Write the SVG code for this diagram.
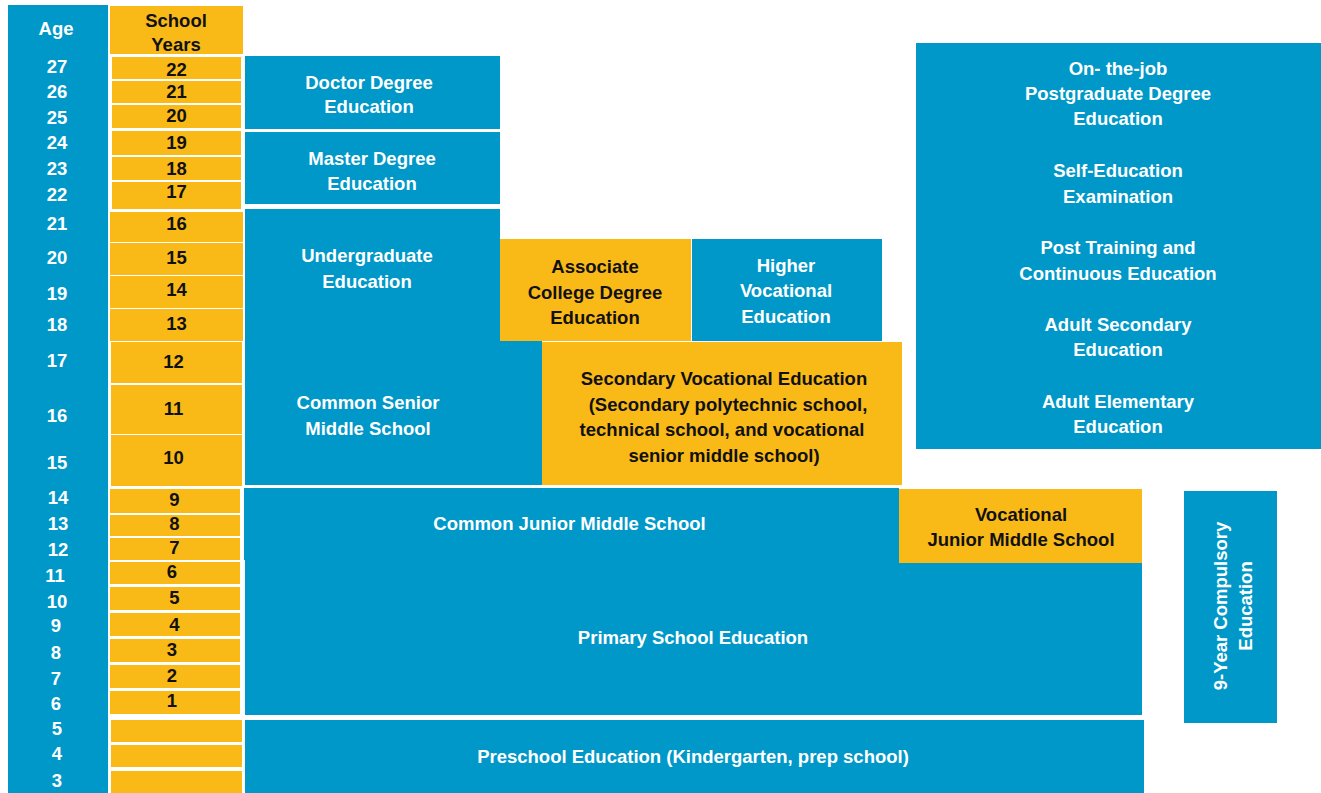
<svg xmlns="http://www.w3.org/2000/svg" width="1321" height="793" viewBox="0 0 1321 793">
<style>
  .b { fill: #0098C8; }
  .y { fill: #F9BA18; }
  text { font-family: "Liberation Sans", Arial, sans-serif; font-weight: bold; font-size: 18.5px; text-anchor: middle; }
  .w { fill: #FFFFFF; }
  .k { fill: #111111; }
</style>
<rect x="0" y="0" width="1321" height="793" fill="#FFFFFF"/>

<g id="age-column">
  <rect class="b" x="8" y="5" width="100" height="788"/>
  <g class="w">
    <text x="56" y="35">Age</text>
    <text x="57" y="72.5">27</text>
    <text x="57" y="97.5">26</text>
    <text x="57" y="123.5">25</text>
    <text x="57" y="149">24</text>
    <text x="57" y="175">23</text>
    <text x="57" y="200.5">22</text>
    <text x="57" y="230">21</text>
    <text x="57" y="263.5">20</text>
    <text x="57" y="299.5">19</text>
    <text x="57" y="330.5">18</text>
    <text x="57" y="366.5">17</text>
    <text x="57" y="421.5">16</text>
    <text x="57" y="468.5">15</text>
    <text x="58" y="503.5">14</text>
    <text x="58" y="530">13</text>
    <text x="58" y="555.5">12</text>
    <text x="55" y="581.5">11</text>
    <text x="57" y="607.5">10</text>
    <text x="56" y="632">9</text>
    <text x="56" y="658.5">8</text>
    <text x="56" y="684.5">7</text>
    <text x="56" y="709.5">6</text>
    <text x="57" y="735">5</text>
    <text x="57" y="760">4</text>
    <text x="57" y="786.5">3</text>
  </g>
</g>

<g id="school-years-column">
  <rect class="y" x="110" y="6" width="133" height="48"/>
  <rect class="y" x="112" y="57" width="129" height="22"/>
  <rect class="y" x="112" y="81" width="129" height="22"/>
  <rect class="y" x="112" y="105" width="129" height="23"/>
  <rect class="y" x="112" y="131" width="129" height="24"/>
  <rect class="y" x="112" y="157" width="129" height="23"/>
  <rect class="y" x="112" y="182" width="129" height="27"/>
  <rect class="y" x="110" y="212" width="133" height="30"/>
  <rect class="y" x="110" y="243" width="133" height="32"/>
  <rect class="y" x="110" y="276" width="133" height="32"/>
  <rect class="y" x="110" y="309" width="133" height="32"/>
  <rect class="y" x="111" y="342" width="131" height="41"/>
  <rect class="y" x="111" y="385" width="131" height="49"/>
  <rect class="y" x="111" y="435" width="131" height="51"/>
  <rect class="y" x="110" y="489" width="130" height="24"/>
  <rect class="y" x="110" y="515" width="130" height="21"/>
  <rect class="y" x="110" y="538" width="130" height="22"/>
  <rect class="y" x="110" y="562" width="130" height="22"/>
  <rect class="y" x="110" y="587" width="130" height="23"/>
  <rect class="y" x="110" y="613" width="130" height="23"/>
  <rect class="y" x="110" y="639" width="130" height="23"/>
  <rect class="y" x="110" y="665" width="130" height="23"/>
  <rect class="y" x="110" y="691" width="130" height="23"/>
  <rect class="y" x="111" y="720" width="131" height="22"/>
  <rect class="y" x="111" y="745" width="131" height="22"/>
  <rect class="y" x="111" y="771" width="131" height="22"/>
  <g class="k">
    <text x="176" y="27">School</text>
    <text x="176" y="51">Years</text>
    <text x="176.5" y="76">22</text>
    <text x="176.5" y="98">21</text>
    <text x="176.5" y="121.5">20</text>
    <text x="176.5" y="149">19</text>
    <text x="176.5" y="175">18</text>
    <text x="176.5" y="197.5">17</text>
    <text x="176.5" y="230">16</text>
    <text x="176.5" y="264">15</text>
    <text x="176.5" y="296">14</text>
    <text x="176.5" y="330">13</text>
    <text x="173.5" y="368">12</text>
    <text x="173.5" y="415">11</text>
    <text x="173.5" y="464">10</text>
    <text x="174.5" y="505.5">9</text>
    <text x="174.5" y="530">8</text>
    <text x="174.5" y="554">7</text>
    <text x="172" y="577.5">6</text>
    <text x="174.5" y="604">5</text>
    <text x="174.5" y="630.5">4</text>
    <text x="172" y="656">3</text>
    <text x="172" y="681.5">2</text>
    <text x="172" y="707">1</text>
  </g>
</g>

<g id="doctor">
  <rect class="b" x="245" y="56" width="255" height="73"/>
  <text class="w" x="369" y="89">Doctor Degree</text>
  <text class="w" x="369" y="113">Education</text>
</g>

<g id="master">
  <rect class="b" x="245" y="132" width="255" height="72"/>
  <text class="w" x="372" y="165">Master Degree</text>
  <text class="w" x="372" y="189.5">Education</text>
</g>

<g id="undergraduate-senior">
  <polygon class="b" points="245,209 500,209 500,341 542,341 542,485 245,485"/>
  <text class="w" x="367" y="261.5">Undergraduate</text>
  <text class="w" x="367" y="287.5">Education</text>
  <text class="w" x="368" y="408.5">Common Senior</text>
  <text class="w" x="368" y="434.5">Middle School</text>
</g>

<g id="associate">
  <rect class="y" x="500" y="239" width="191" height="102"/>
  <text class="k" x="595" y="272.5">Associate</text>
  <text class="k" x="595" y="298.5">College Degree</text>
  <text class="k" x="595" y="323.5">Education</text>
</g>

<g id="higher-vocational">
  <rect class="b" x="692" y="239" width="190" height="102"/>
  <text class="w" x="786" y="271.5">Higher</text>
  <text class="w" x="786" y="296.5">Vocational</text>
  <text class="w" x="786" y="322.5">Education</text>
</g>

<g id="secondary-vocational">
  <rect class="y" x="542" y="342" width="360" height="143"/>
  <text class="k" x="724" y="384.5">Secondary Vocational Education</text>
  <text class="k" x="728" y="410.5">(Secondary polytechnic school,</text>
  <text class="k" x="722" y="435.5">technical school, and vocational</text>
  <text class="k" x="724" y="461.5">senior middle school)</text>
</g>

<g id="junior-primary">
  <polygon class="b" points="244,488 899,488 899,563 1142,563 1142,715 245,715 245,560 244,560"/>
  <text class="w" x="569.5" y="529.5">Common Junior Middle School</text>
  <text class="w" x="693" y="643.5">Primary School Education</text>
</g>

<g id="vocational-junior">
  <rect class="y" x="899" y="489" width="243" height="74"/>
  <text class="k" x="1021" y="520.5">Vocational</text>
  <text class="k" x="1021" y="545.5">Junior Middle School</text>
</g>

<g id="preschool">
  <rect class="b" x="245" y="720" width="899" height="73"/>
  <text class="w" x="693" y="762.5">Preschool Education (Kindergarten, prep school)</text>
</g>

<g id="adult-education">
  <rect class="b" x="916" y="43" width="405" height="406"/>
  <g class="w">
    <text x="1118" y="74.5">On- the-job</text>
    <text x="1118" y="99.5">Postgraduate Degree</text>
    <text x="1118" y="125">Education</text>
    <text x="1118" y="176.5">Self-Education</text>
    <text x="1118" y="202.5">Examination</text>
    <text x="1118" y="253.5">Post Training and</text>
    <text x="1118" y="279.5">Continuous Education</text>
    <text x="1118" y="330.5">Adult Secondary</text>
    <text x="1118" y="355.5">Education</text>
    <text x="1118" y="407.5">Adult Elementary</text>
    <text x="1118" y="432.5">Education</text>
  </g>
</g>

<g id="compulsory">
  <rect class="b" x="1184" y="491" width="93" height="232"/>
  <g transform="translate(1233,606) rotate(-90)" class="w">
    <text x="0" y="-6">9-Year Compulsory</text>
    <text x="0" y="19">Education</text>
  </g>
</g>

<g id="connectors"></g>
</svg>
